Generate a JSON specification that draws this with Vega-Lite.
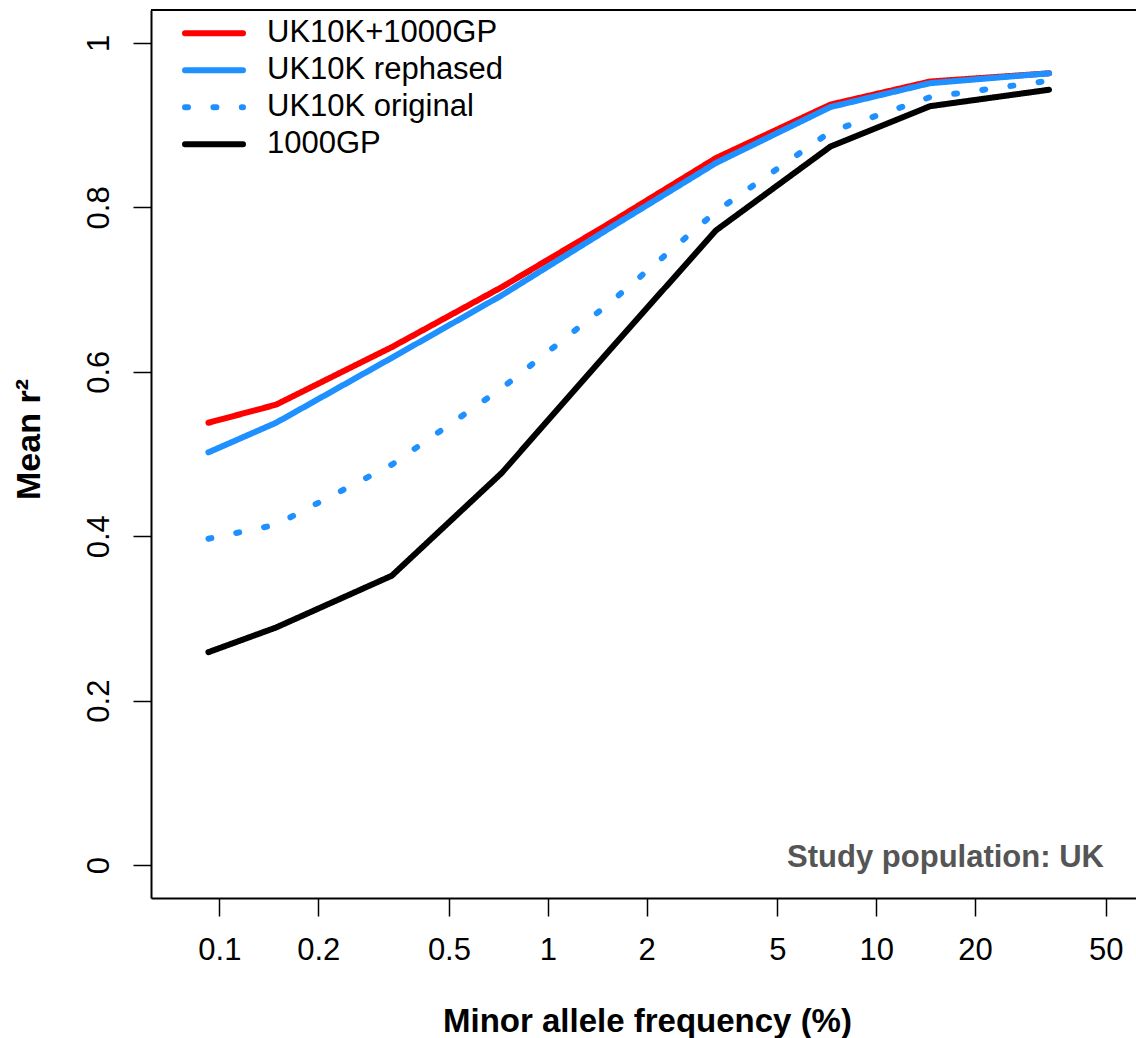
{
  "$schema": "https://vega.github.io/schema/vega-lite/v6.json",
  "autosize": {"type": "none"},
  "padding": {"left": 151, "top": 10, "right": 0, "bottom": 140},
  "width": 985,
  "height": 888,
  "background": "white",
  "config": {
    "view": {"stroke": null},
    "axis": {"grid": false}
  },
  "data": {
    "values": [
      {"series": "1000GP", "maf": 0.0926, "r2": 0.259},
      {"series": "1000GP", "maf": 0.1488, "r2": 0.289},
      {"series": "1000GP", "maf": 0.335, "r2": 0.352},
      {"series": "1000GP", "maf": 0.7243, "r2": 0.477},
      {"series": "1000GP", "maf": 1.548, "r2": 0.627},
      {"series": "1000GP", "maf": 3.254, "r2": 0.772},
      {"series": "1000GP", "maf": 7.262, "r2": 0.874},
      {"series": "1000GP", "maf": 14.59, "r2": 0.923},
      {"series": "1000GP", "maf": 33.61, "r2": 0.943},
      {"series": "UK10K original", "maf": 0.0926, "r2": 0.397},
      {"series": "UK10K original", "maf": 0.1488, "r2": 0.414},
      {"series": "UK10K original", "maf": 0.335, "r2": 0.487},
      {"series": "UK10K original", "maf": 0.7243, "r2": 0.58},
      {"series": "UK10K original", "maf": 1.548, "r2": 0.684},
      {"series": "UK10K original", "maf": 3.254, "r2": 0.795},
      {"series": "UK10K original", "maf": 7.262, "r2": 0.892},
      {"series": "UK10K original", "maf": 14.59, "r2": 0.934},
      {"series": "UK10K original", "maf": 33.61, "r2": 0.954},
      {"series": "UK10K+1000GP", "maf": 0.0926, "r2": 0.538},
      {"series": "UK10K+1000GP", "maf": 0.1488, "r2": 0.56},
      {"series": "UK10K+1000GP", "maf": 0.335, "r2": 0.63},
      {"series": "UK10K+1000GP", "maf": 0.7243, "r2": 0.703},
      {"series": "UK10K+1000GP", "maf": 1.548, "r2": 0.781},
      {"series": "UK10K+1000GP", "maf": 3.254, "r2": 0.86},
      {"series": "UK10K+1000GP", "maf": 7.262, "r2": 0.925},
      {"series": "UK10K+1000GP", "maf": 14.59, "r2": 0.953},
      {"series": "UK10K+1000GP", "maf": 33.61, "r2": 0.963},
      {"series": "UK10K rephased", "maf": 0.0926, "r2": 0.502},
      {"series": "UK10K rephased", "maf": 0.1488, "r2": 0.538},
      {"series": "UK10K rephased", "maf": 0.335, "r2": 0.617},
      {"series": "UK10K rephased", "maf": 0.7243, "r2": 0.693},
      {"series": "UK10K rephased", "maf": 1.548, "r2": 0.775},
      {"series": "UK10K rephased", "maf": 3.254, "r2": 0.854},
      {"series": "UK10K rephased", "maf": 7.262, "r2": 0.922},
      {"series": "UK10K rephased", "maf": 14.59, "r2": 0.951},
      {"series": "UK10K rephased", "maf": 33.61, "r2": 0.963}
    ]
  },
  "layer": [
    {
      "data": {"values": [{"edge": "top"}]},
      "mark": {"type": "rule", "color": "black", "strokeWidth": 2},
      "encoding": {
        "y": {"datum": 1.04, "type": "quantitative", "scale": {"domain": [-0.04, 1.04], "nice": false, "zero": false}}
      }
    },
    {
      "mark": {"type": "line", "strokeWidth": 6, "strokeCap": "round", "strokeJoin": "round"},
      "encoding": {
        "x": {
          "field": "maf", "type": "quantitative",
          "scale": {"type": "log", "domain": [0.0619, 61.85], "nice": false},
          "axis": {
            "values": [0.1, 0.2, 0.5, 1, 2, 5, 10, 20, 50],
            "format": "~g",
            "title": "Minor allele frequency (%)",
            "domainColor": "black", "domainWidth": 2,
            "tickColor": "black", "tickWidth": 1.5, "tickSize": 18,
            "labelFont": "Liberation Sans", "labelFontSize": 31, "labelColor": "black",
            "labelPadding": 19, "labelBaseline": "top", "labelFlush": false, "labelOverlap": false,
            "titleFont": "Liberation Sans", "titleFontSize": 33, "titleFontWeight": "bold", "titleColor": "black",
            "titleBaseline": "alphabetic", "titleAlign": "center", "titleAnchor": null,
            "titleX": 496, "titleY": 133
          }
        },
        "y": {
          "field": "r2", "type": "quantitative",
          "scale": {"domain": [-0.04, 1.04], "nice": false, "zero": false},
          "axis": {
            "values": [0, 0.2, 0.4, 0.6, 0.8, 1],
            "format": "~g",
            "title": "Mean r²",
            "domainColor": "black", "domainWidth": 2,
            "tickColor": "black", "tickWidth": 1.5, "tickSize": 18,
            "labelFont": "Liberation Sans", "labelFontSize": 31, "labelColor": "black",
            "labelAngle": -90, "labelAlign": "center", "labelBaseline": "alphabetic",
            "labelPadding": 25, "labelFlush": false, "labelOverlap": false,
            "titleFont": "Liberation Sans", "titleFontSize": 34, "titleFontWeight": "bold", "titleColor": "black",
            "titleAngle": -90, "titleBaseline": "alphabetic", "titleAlign": "center", "titleAnchor": null,
            "titleX": -112, "titleY": 429
          }
        },
        "color": {
          "field": "series", "type": "nominal",
          "scale": {
            "domain": ["UK10K+1000GP", "UK10K rephased", "UK10K original", "1000GP"],
            "range": ["#FF0000", "#1E90FF", "#1E90FF", "#000000"]
          },
          "legend": {
            "title": null,
            "orient": "none", "legendX": 31, "legendY": 5,
            "symbolType": "stroke", "symbolSize": 3364, "symbolStrokeWidth": 6,
            "labelFont": "Liberation Sans", "labelFontSize": 31, "labelColor": "black", "labelLimit": 0,
            "labelOffset": 21, "rowPadding": 0, "clipHeight": 36.7, "padding": 0,
            "encode": {"symbols": {"update": {
              "strokeCap": {"value": "round"},
              "strokeDash": {"signal": "datum.value === 'UK10K original' ? [3, 18.7] : [1, 0]"}
            }}}
          }
        },
        "strokeDash": {
          "field": "series", "type": "nominal",
          "scale": {
            "domain": ["UK10K+1000GP", "UK10K rephased", "UK10K original", "1000GP"],
            "range": [[1, 0], [1, 0], [3, 25.4], [1, 0]]
          }
        }
      }
    },
    {
      "data": {"values": [{"note": "Study population: UK"}]},
      "mark": {"type": "text", "align": "right", "baseline": "middle", "font": "Liberation Sans", "fontSize": 31, "fontWeight": "bold", "color": "#555555"},
      "encoding": {
        "text": {"field": "note", "type": "nominal"},
        "x": {"datum": 49.4, "type": "quantitative"},
        "y": {"datum": 0.009, "type": "quantitative"}
      }
    }
  ]
}
